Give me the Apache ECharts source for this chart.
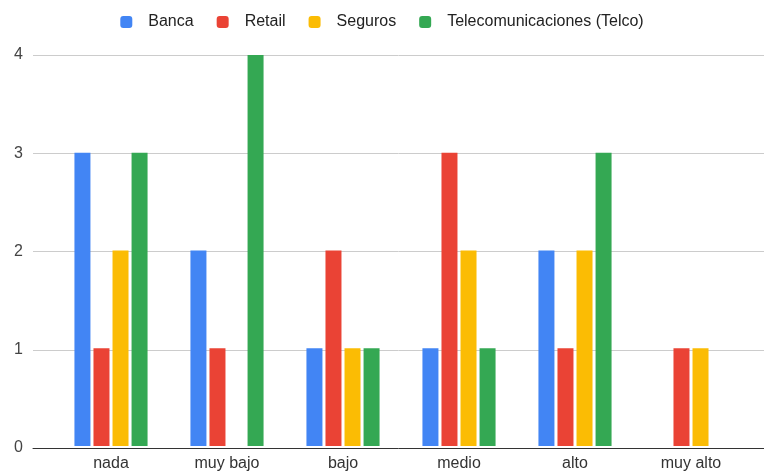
<!DOCTYPE html>
<html>
<head>
<meta charset="utf-8">
<script src="https://cdn.jsdelivr.net/npm/echarts@6/dist/echarts.min.js"></script>
<style>
  html, body { margin: 0; padding: 0; background: #fff; }
  #chart { width: 764px; height: 472px; }
</style>
</head>
<body>
<div id="chart"></div>
<script>
// Categories (level) and counts per sector
const categories = ['nada', 'muy bajo', 'bajo', 'medio', 'alto', 'muy alto'];
const seriesNames = ['Banca', 'Retail', 'Seguros', 'Telecomunicaciones (Telco)'];
const banca   = [3, 2, 1, 1, 2, 0];
const retail  = [1, 1, 2, 3, 1, 1];
const seguros = [2, 0, 1, 2, 2, 1];
const telco   = [3, 4, 1, 1, 3, 0];
const yTicks  = [0, 1, 2, 3, 4];

const colors = ['#4285F4', '#EA4335', '#FBBC04', '#34A853'];
const FONT = '"Liberation Sans", Arial, sans-serif';

const chart = echarts.init(document.getElementById('chart'), null, { renderer: 'canvas' });

function barSeries(name, data, color) {
  return {
    name: name,
    type: 'bar',
    xAxisIndex: 1,
    yAxisIndex: 1,
    data: data,
    barWidth: 16,
    barGap: '19%',
    itemStyle: { color: color },
    emphasis: { disabled: true }
  };
}

chart.setOption({
  animation: false,
  color: colors,
  textStyle: { fontFamily: FONT },
  legend: {
    data: seriesNames,
    left: 'center',
    top: 9,
    icon: 'roundRect',
    itemWidth: 12,
    itemHeight: 12,
    itemGap: 23,
    textStyle: { fontFamily: FONT, fontSize: 16, color: '#222', padding: [0, 0, 0, 11] }
  },
  grid: [
    // full-width grid: value scale, gridlines and baseline
    { left: 33, right: 0, top: 55, bottom: 24 },
    // bar area with the category axis
    { left: 53, right: 15, top: 55, bottom: 24 }
  ],
  xAxis: [
    {
      gridIndex: 0, type: 'value', min: 0, max: 1, z: 5,
      axisLine: { show: true, lineStyle: { color: '#333', width: 1 } },
      axisTick: { show: false }, axisLabel: { show: false }, splitLine: { show: false }
    },
    {
      gridIndex: 1, type: 'category', data: categories,
      axisLine: { show: false }, axisTick: { show: false },
      axisLabel: { fontFamily: FONT, fontSize: 16, color: '#333', margin: 8, padding: [2, 0, 0, 0] }
    }
  ],
  yAxis: [
    {
      gridIndex: 0, type: 'value', min: yTicks[0], max: yTicks[yTicks.length - 1], interval: 1,
      axisLine: { show: false }, axisTick: { show: false },
      axisLabel: { fontFamily: FONT, fontSize: 16, color: '#444', margin: 10 },
      splitLine: { show: true, lineStyle: { color: '#cccccc', width: 1 } }
    },
    {
      gridIndex: 1, type: 'value', min: yTicks[0], max: yTicks[yTicks.length - 1], interval: 1,
      show: false
    }
  ],
  series: [
    barSeries(seriesNames[0], banca, colors[0]),
    barSeries(seriesNames[1], retail, colors[1]),
    barSeries(seriesNames[2], seguros, colors[2]),
    barSeries(seriesNames[3], telco, colors[3])
  ]
});
</script>
</body>
</html>
